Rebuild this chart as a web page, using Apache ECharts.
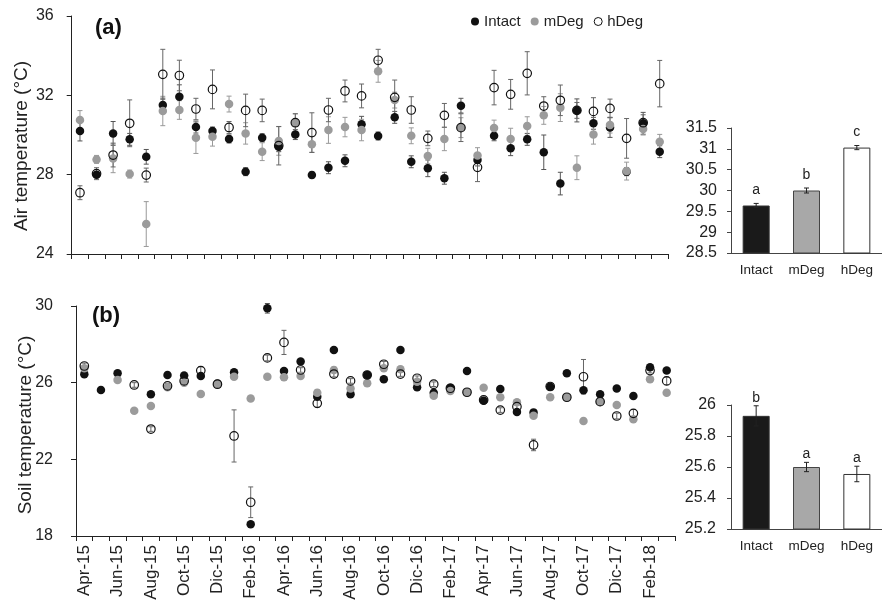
<!DOCTYPE html>
<html><head><meta charset="utf-8">
<script src="https://cdn.jsdelivr.net/npm/echarts@6/dist/echarts.min.js"></script>
<style>html,body{margin:0;padding:0;background:#fff}#c{width:882px;height:606px}</style>
</head><body><div id="c"></div>
<script>
const months = ['Apr-15','May-15','Jun-15','Jul-15','Aug-15','Sep-15','Oct-15','Nov-15','Dic-15','Jan-16','Feb-16','Mar-16','Apr-16','May-16','Jun-16','Jul-16','Aug-16','Sep-16','Oct-16','Nov-16','Dic-16','Jan-17','Feb-17','Mar-17','Apr-17','May-17','Jun-17','Jul-17','Aug-17','Sep-17','Oct-17','Nov-17','Dic-17','Jan-18','Feb-18','Mar-18'];
const seriesNames = ['Intact','mDeg','hDeg'];
const airTitle = 'Air temperature (\u00B0C)';
const soilTitle = 'Soil temperature (\u00B0C)';

const airIntact = [30.2,28.0,30.08,29.78,28.9,31.51,31.93,30.4,30.2,29.8,28.15,29.86,29.41,30.02,27.98,28.35,28.7,30.54,29.95,30.89,28.65,28.32,27.82,31.48,28.74,29.96,29.33,29.78,29.13,27.55,31.24,30.59,30.38,28.15,30.59,29.16];
const airIntactErr = [0.5,0.15,0.6,0.3,0.37,0.35,0.6,0.3,0.2,0.2,0.2,0.2,0.25,0.25,0.15,0.3,0.3,0.4,0.2,0.3,0.3,0.42,0.3,0.37,0.3,0.25,0.37,0.3,0.87,0.57,0.58,0.3,0.5,0.2,0.55,0.3];
const airMDeg = [30.76,28.77,28.82,28.03,25.51,31.21,31.26,29.86,29.91,31.56,30.08,29.16,29.7,30.62,29.53,30.25,30.4,30.25,33.21,31.76,29.96,28.94,29.8,30.37,28.97,30.35,29.8,30.45,30.99,31.38,28.35,30.03,30.5,28.18,30.3,29.66];
const airMDegErr = [0.47,0.2,0.72,0.2,1.13,0.74,0.47,0.79,0.47,0.4,0.54,0.45,0.72,0.45,0.4,0.67,0.49,0.54,0.55,0.4,0.4,0.39,0.59,0.5,0.39,0.4,0.54,0.47,0.45,0.7,0.6,0.49,0.4,0.45,0.3,0.37];
const airHDeg = [27.09,28.05,28.99,30.59,27.98,33.06,33.0,31.31,32.3,30.38,31.24,31.24,29.46,30.62,30.12,31.26,32.22,31.97,33.77,31.9,31.26,29.83,30.99,30.37,28.37,32.39,32.05,33.11,31.46,31.75,31.24,31.19,31.34,29.83,30.62,32.59];
const airHDegErr = [0.35,0.3,0.6,1.18,0.35,1.26,0.77,0.54,0.98,0.3,0.82,0.57,0.97,0.45,1.0,0.59,0.55,0.6,0.55,0.87,0.67,0.37,0.6,0.7,0.72,0.87,0.75,1.09,0.47,0.77,0.4,0.69,0.47,1.0,0.4,1.17];

const soilIntact = [26.44,25.62,26.49,null,25.39,26.4,26.37,26.35,25.95,26.54,18.61,29.88,26.61,27.1,25.27,27.7,25.39,26.4,26.18,27.7,25.76,25.48,25.74,26.61,25.06,25.67,24.47,24.45,25.79,26.49,25.6,25.39,25.7,25.31,26.8,26.63];
const soilIntactErr = [0.1,0.1,0.1,0,0.12,0.1,0.1,0.1,0.1,0.1,0.12,0.25,0.1,0.1,0.1,0.1,0.1,0.1,0.1,0.1,0.1,0.1,0.1,0.1,0.1,0.1,0.1,0.1,0.1,0.1,0.1,0.1,0.1,0.1,0.1,0.1];
const soilMDeg = [26.75,null,26.14,24.54,24.78,25.76,25.99,25.41,25.92,26.31,25.18,26.31,26.28,26.35,25.48,26.66,25.7,25.97,26.75,26.7,26.05,25.32,25.57,25.5,25.74,25.24,24.98,24.28,25.24,25.24,24.0,25.01,24.84,24.09,26.18,25.48];
const soilMDegErr = [0.12,0,0.1,0.1,0.1,0.15,0.15,0.1,0.1,0.1,0.1,0.1,0.15,0.1,0.15,0.15,0.15,0.15,0.15,0.15,0.1,0.1,0.1,0.1,0.1,0.1,0.1,0.1,0.1,0.1,0.1,0.1,0.1,0.1,0.1,0.1];
const soilHDeg = [26.87,null,null,25.88,23.58,25.83,26.09,26.63,25.92,23.22,19.76,27.29,28.1,26.66,24.92,26.45,26.09,26.4,26.96,26.45,26.23,25.92,25.71,25.5,25.1,24.57,24.75,22.75,25.8,25.24,26.31,25.01,24.26,24.4,26.63,26.09];
const soilHDegErr = [0.15,0,0,0.12,0.12,0.12,0.15,0.2,0.12,1.36,0.8,0.15,0.63,0.12,0.2,0.15,0.12,0.12,0.15,0.12,0.12,0.12,0.12,0.12,0.12,0.12,0.15,0.3,0.12,0.12,0.9,0.12,0.15,0.2,0.12,0.2];

const barCats = ['Intact','mDeg','hDeg'];
const airMean = [29.64,30.0,31.03];
const airMeanErr = [0.05,0.06,0.05];
const airLetters = ['a','b','c'];
const soilMean = [25.93,25.6,25.555];
const soilMeanErr = [0.065,0.03,0.05];
const soilLetters = ['b','a','a'];

const FONT = 'Liberation Sans, Arial, Helvetica, sans-serif';
const TXT = '#222';

function errData(vals, errs){
  const out = [];
  vals.forEach((v,i)=>{ if(v!=null){ out.push([i, v-errs[i], v+errs[i]]); } });
  return out;
}
function errRender(color, cap, letters, offset){
  return function(params, api){
    const x = api.value(0), lo = api.value(1), hi = api.value(2);
    const p1 = api.coord([x, lo]), p2 = api.coord([x, hi]);
    const w = cap/2;
    const st = {stroke: color, lineWidth: 1};
    const ch = [
      {type:'line', shape:{x1:p1[0],y1:p1[1],x2:p2[0],y2:p2[1]}, style:st},
      {type:'line', shape:{x1:p1[0]-w,y1:p1[1],x2:p1[0]+w,y2:p1[1]}, style:st},
      {type:'line', shape:{x1:p2[0]-w,y1:p2[1],x2:p2[0]+w,y2:p2[1]}, style:st}
    ];
    if(letters){
      ch.push({type:'text', style:{text: letters[params.dataIndex], x:p2[0], y:p2[1]-offset,
        align:'center', verticalAlign:'middle', font:'14px ' + FONT, fill: TXT}});
    }
    return {type:'group', children: ch};
  };
}

const colors = {Intact:'#111111', mDeg:'#9b9b9b'};
const errColors = ['#555','#999','#666'];

function scatterSet(gi, vals, errsArr){
  const s = [];
  seriesNames.forEach((n,k)=>{
    s.push({type:'custom', name: n, xAxisIndex: gi, yAxisIndex: gi, renderItem: errRender(errColors[k], 5),
      data: errData(vals[k], errsArr[k]), encode:{x:0, y:[1,2]}, z: 2, silent:true});
  });
  seriesNames.forEach((n,k)=>{
    const it = k===2 ? {color:'rgba(255,255,255,0)', borderColor:'#111', borderWidth:1.2, opacity:1}
                     : {color: colors[n], opacity:1};
    s.push({type:'scatter', name:n, xAxisIndex: gi, yAxisIndex: gi, symbol:'circle', symbolSize: 8.5,
      itemStyle: it, data: vals[k], z: 3 + k});
  });
  return s;
}

const barStyles = [
  {color:'#1a1a1a', borderColor:'#333', borderWidth:1},
  {color:'#a8a8a8', borderColor:'#444', borderWidth:1},
  {color:'#ffffff', borderColor:'#333', borderWidth:1}
];

function catAxis(gi, showLabel){
  return {type:'category', gridIndex: gi, data: months, boundaryGap: true,
    axisLine:{lineStyle:{color:'#222', width:1}},
    axisTick:{show:true, interval:0, length:5, lineStyle:{color:'#222'}},
    axisLabel: showLabel ? {interval:1, rotate:90, fontSize:17, color:TXT, margin:9, fontFamily:FONT} : {show:false},
    splitLine:{show:false}};
}
function valAxis(gi, min, max, interval, margin){
  return {type:'value', gridIndex: gi, min, max, interval,
    axisLine:{show:true, lineStyle:{color:'#222', width:1}},
    axisTick:{show:true, length:5, lineStyle:{color:'#222'}},
    axisLabel:{fontSize:16, color:TXT, margin, fontFamily:FONT},
    splitLine:{show:false}};
}
function barCatAxis(gi){
  return {type:'category', gridIndex: gi, data: barCats,
    axisLine:{lineStyle:{color:'#444'}}, axisTick:{show:false},
    axisLabel:{fontSize:13.5, color:TXT, margin:10, fontFamily:FONT}};
}
function barValAxis(gi, min, max, interval, margin){
  const a = valAxis(gi, min, max, interval, margin);
  a.axisLine.lineStyle.color = '#444';
  a.axisTick.length = 4;
  a.axisTick.lineStyle.color = '#444';
  return a;
}

const chart = echarts.init(document.getElementById('c'), null, {renderer:'canvas'});
const option = {
  animation: false,
  backgroundColor: '#fff',
  textStyle: {fontFamily: FONT, color: TXT},
  legend: {
    left: 466, top: 9, itemWidth: 8, itemHeight: 8, itemGap: 10,
    textStyle: {fontSize: 15, color: TXT, fontFamily: FONT},
    data: [
      {name:'Intact', icon:'circle', itemStyle:{color:'#111', opacity:1}},
      {name:'mDeg', icon:'circle', itemStyle:{color:'#9b9b9b', opacity:1}},
      {name:'hDeg', icon:'circle', itemStyle:{color:'#fff', borderColor:'#111', borderWidth:1, opacity:1}}
    ]
  },
  grid: [
    {left: 71.7, top: 16, width: 596.3, height: 238},
    {left: 76, top: 306, width: 599, height: 230},
    {left: 731, top: 128, width: 159, height: 125},
    {left: 731, top: 405, width: 159, height: 124}
  ],
  xAxis: [catAxis(0,false), catAxis(1,true), barCatAxis(2), barCatAxis(3)],
  yAxis: [
    valAxis(0, 24, 36, 4, 18),
    valAxis(1, 18, 30, 4, 23),
    barValAxis(2, 28.5, 31.5, 0.5, 14),
    barValAxis(3, 25.2, 26.0, 0.2, 15)
  ],
  graphic: [
    {type:'text', left: 95, top: 17, style:{text:'(a)', font:'bold 22px ' + FONT, fill:'#111'}},
    {type:'text', left: 92, top: 305, style:{text:'(b)', font:'bold 22px ' + FONT, fill:'#111'}},
    {type:'text', x: 22, y: 146, rotation: Math.PI/2,
      style:{text: airTitle, align:'center', verticalAlign:'middle', font:'19px ' + FONT, fill: TXT}},
    {type:'text', x: 26, y: 425, rotation: Math.PI/2,
      style:{text: soilTitle, align:'center', verticalAlign:'middle', font:'19px ' + FONT, fill: TXT}}
  ],
  series: [
    ...scatterSet(0, [airIntact, airMDeg, airHDeg], [airIntactErr, airMDegErr, airHDegErr]),
    ...scatterSet(1, [soilIntact, soilMDeg, soilHDeg], [soilIntactErr, soilMDegErr, soilHDegErr]),
    {type:'bar', xAxisIndex:2, yAxisIndex:2, barWidth:27, z:2,
      data: airMean.map((v,i)=>({value:v, itemStyle: barStyles[i]}))},
    {type:'custom', xAxisIndex:2, yAxisIndex:2, z:5, silent:true,
      renderItem: errRender('#222', 5, airLetters, 13),
      data: airMean.map((v,i)=>[i, v-airMeanErr[i], v+airMeanErr[i]]), encode:{x:0,y:[1,2]}},
    {type:'bar', xAxisIndex:3, yAxisIndex:3, barWidth:27, z:2,
      data: soilMean.map((v,i)=>({value:v, itemStyle: barStyles[i]}))},
    {type:'custom', xAxisIndex:3, yAxisIndex:3, z:5, silent:true,
      renderItem: errRender('#222', 5, soilLetters, 8),
      data: soilMean.map((v,i)=>[i, v-soilMeanErr[i], v+soilMeanErr[i]]), encode:{x:0,y:[1,2]}}
  ]
};
chart.setOption(option);
</script>
</body></html>
